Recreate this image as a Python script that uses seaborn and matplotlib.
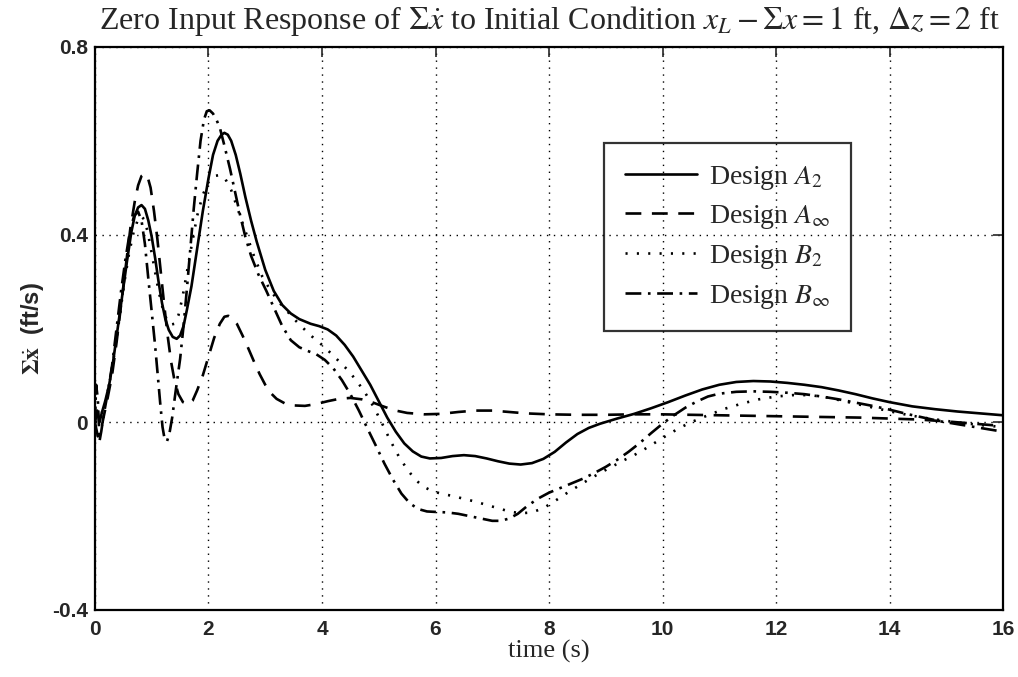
import matplotlib
matplotlib.use("Agg")
import matplotlib.pyplot as plt
import pandas as pd
import seaborn as sns

# Design A2 (solid)
t_a2 = [0.0, 0.04, 0.08, 0.12, 0.18, 0.25, 0.32, 0.4, 0.48, 0.56, 0.64, 0.7, 0.76, 0.82,
        0.88, 0.94, 1.0, 1.06, 1.12, 1.18, 1.24, 1.3, 1.37, 1.44, 1.5, 1.56, 1.62, 1.7,
        1.8, 1.9, 2.0, 2.08, 2.16, 2.23, 2.28, 2.34, 2.4, 2.48, 2.56, 2.65, 2.75, 2.85,
        3.0, 3.15, 3.3, 3.45, 3.6, 3.8, 3.95, 4.1, 4.25, 4.4, 4.55, 4.7, 4.85, 5.0, 5.15,
        5.3, 5.45, 5.6, 5.75, 5.9, 6.1, 6.3, 6.5, 6.7, 6.9, 7.1, 7.3, 7.5, 7.7, 7.9, 8.1,
        8.3, 8.5, 8.7, 8.9, 9.2, 9.5, 9.8, 10.1, 10.4, 10.7, 11.0, 11.3, 11.6, 11.9, 12.2,
        12.5, 12.8, 13.1, 13.4, 13.7, 14.0, 14.4, 14.8, 15.2, 15.6, 16.0]
y_a2 = [0.0, 0.025, 0.0, 0.02, 0.045, 0.08, 0.13, 0.2, 0.27, 0.34, 0.405, 0.44, 0.458,
        0.463, 0.455, 0.43, 0.395, 0.35, 0.3, 0.255, 0.22, 0.197, 0.182, 0.178, 0.185,
        0.205, 0.24, 0.29, 0.37, 0.45, 0.52, 0.57, 0.6, 0.613, 0.617, 0.613, 0.6, 0.57,
        0.53, 0.48, 0.43, 0.385, 0.325, 0.28, 0.25, 0.232, 0.22, 0.21, 0.205, 0.198,
        0.185, 0.165, 0.14, 0.11, 0.08, 0.045, 0.01, -0.02, -0.045, -0.062, -0.073,
        -0.077, -0.076, -0.072, -0.07, -0.072, -0.077, -0.083, -0.088, -0.09, -0.087,
        -0.078, -0.063, -0.043, -0.025, -0.012, -0.003, 0.008, 0.018, 0.03, 0.043, 0.057,
        0.07, 0.08, 0.086, 0.088, 0.087, 0.084, 0.08, 0.075, 0.068, 0.06, 0.051, 0.043,
        0.034, 0.028, 0.023, 0.019, 0.015]

# Design A-infinity (dashed)
t_ainf = [0.0, 0.05, 0.1, 0.15, 0.22, 0.3, 0.38, 0.46, 0.54, 0.62, 0.7, 0.76, 0.82, 0.88,
          0.93, 0.98, 1.04, 1.1, 1.16, 1.22, 1.28, 1.34, 1.4, 1.47, 1.55, 1.64, 1.72, 1.8,
          1.9, 2.0, 2.1, 2.2, 2.28, 2.35, 2.42, 2.5, 2.6, 2.7, 2.8, 2.9, 3.0, 3.1, 3.2,
          3.35, 3.5, 3.7, 3.9, 4.1, 4.3, 4.5, 4.7, 4.9, 5.1, 5.3, 5.5, 5.8, 6.1, 6.4, 6.7,
          7.0, 7.3, 7.6, 8.0, 8.5, 9.0, 9.5, 10.0, 10.5, 11.0, 11.5, 12.0, 12.5, 13.0,
          13.5, 14.0, 14.5, 15.0, 15.5, 16.0]
y_ainf = [0.0, -0.03, -0.02, 0.01, 0.05, 0.1, 0.17, 0.25, 0.33, 0.41, 0.47, 0.505, 0.525,
          0.53, 0.522, 0.5, 0.45, 0.39, 0.32, 0.25, 0.185, 0.13, 0.09, 0.06, 0.043, 0.038,
          0.046, 0.068, 0.1, 0.14, 0.18, 0.21, 0.225, 0.227, 0.222, 0.21, 0.185, 0.158,
          0.13, 0.103, 0.08, 0.062, 0.05, 0.04, 0.036, 0.035, 0.039, 0.045, 0.05, 0.052,
          0.049, 0.042, 0.033, 0.025, 0.02, 0.017, 0.018, 0.022, 0.025, 0.025, 0.022,
          0.019, 0.017, 0.016, 0.016, 0.017, 0.017, 0.016, 0.015, 0.014, 0.013, 0.012,
          0.011, 0.01, 0.008, 0.006, 0.002, -0.003, -0.008]

# Design B2 (dotted)
t_b2 = [0.0, 0.06, 0.12, 0.2, 0.28, 0.36, 0.44, 0.52, 0.6, 0.68, 0.75, 0.81, 0.87, 0.93,
        1.0, 1.06, 1.12, 1.19, 1.26, 1.33, 1.4, 1.47, 1.54, 1.62, 1.7, 1.8, 1.9, 2.0,
        2.1, 2.2, 2.3, 2.4, 2.5, 2.6, 2.7, 2.8, 2.95, 3.1, 3.25, 3.4, 3.55, 3.7, 3.85,
        4.0, 4.15, 4.3, 4.45, 4.6, 4.75, 4.9, 5.05, 5.2, 5.35, 5.5, 5.65, 5.8, 5.95,
        6.1, 6.3, 6.5, 6.7, 6.9, 7.1, 7.3, 7.5, 7.7, 7.9, 8.1, 8.3, 8.5, 8.7, 8.9, 9.1,
        9.3, 9.5, 9.7, 9.9, 10.1, 10.3, 10.5, 10.8, 11.1, 11.4, 11.7, 12.0, 12.3, 12.6,
        12.9, 13.2, 13.5, 13.8, 14.1, 14.4, 14.7, 15.0, 15.4, 15.7, 16.0]
y_b2 = [0.0, 0.01, 0.02, 0.05, 0.1, 0.16, 0.23, 0.3, 0.36, 0.405, 0.43, 0.44, 0.432,
        0.405, 0.36, 0.32, 0.28, 0.245, 0.22, 0.208, 0.21, 0.228, 0.265, 0.32, 0.375,
        0.44, 0.485, 0.512, 0.525, 0.527, 0.518, 0.495, 0.46, 0.425, 0.39, 0.355, 0.31,
        0.28, 0.255, 0.235, 0.215, 0.197, 0.18, 0.165, 0.148, 0.13, 0.112, 0.09, 0.065,
        0.035, 0.0, -0.038, -0.072, -0.1, -0.123, -0.138, -0.147, -0.152, -0.157,
        -0.163, -0.169, -0.176, -0.183, -0.19, -0.194, -0.192, -0.183, -0.168, -0.152,
        -0.137, -0.122, -0.108, -0.095, -0.082, -0.07, -0.056, -0.041, -0.026, -0.012,
        0.0, 0.015, 0.029, 0.04, 0.049, 0.055, 0.058, 0.058, 0.053, 0.045, 0.037, 0.029,
        0.021, 0.014, 0.008, 0.003, -0.003, -0.007, -0.01]

# Design B-infinity (dash-dot)
t_binf = [0.0, 0.02, 0.05, 0.08, 0.11, 0.16, 0.22, 0.3, 0.38, 0.46, 0.54, 0.62, 0.69,
          0.76, 0.82, 0.88, 0.94, 1.0, 1.06, 1.11, 1.15, 1.19, 1.23, 1.27, 1.31, 1.36,
          1.42, 1.5, 1.56, 1.62, 1.68, 1.74, 1.8, 1.86, 1.92, 1.97, 2.02, 2.08, 2.14,
          2.2, 2.28, 2.38, 2.47, 2.56, 2.65, 2.75, 2.88, 3.02, 3.15, 3.3, 3.45, 3.6, 3.75,
          3.9, 4.05, 4.2, 4.35, 4.5, 4.65, 4.8, 4.95, 5.1, 5.25, 5.4, 5.55, 5.7, 5.85,
          6.0, 6.2, 6.4, 6.6, 6.8, 7.0, 7.15, 7.3, 7.45, 7.6, 7.8, 8.0, 8.2, 8.4, 8.6,
          8.8, 9.0, 9.2, 9.4, 9.6, 9.8, 10.0, 10.2, 10.4, 10.6, 10.8, 11.0, 11.3, 11.6,
          11.9, 12.2, 12.5, 12.8, 13.1, 13.4, 13.7, 14.0, 14.3, 14.6, 14.9, 15.2, 15.5,
          15.8, 16.0]
y_binf = [0.0, 0.08, 0.05, -0.04, -0.02, 0.02, 0.06, 0.12, 0.2, 0.28, 0.35, 0.41, 0.44,
          0.449, 0.43, 0.38, 0.306, 0.235, 0.163, 0.095, 0.04, -0.01, -0.038, -0.04,
          -0.025, 0.01, 0.065, 0.135, 0.205, 0.285, 0.37, 0.455, 0.53, 0.6, 0.645, 0.663,
          0.665, 0.658, 0.645, 0.628, 0.59, 0.54, 0.49, 0.44, 0.395, 0.355, 0.315, 0.28,
          0.245, 0.205, 0.175, 0.16, 0.152, 0.145, 0.133, 0.115, 0.09, 0.06, 0.025,
          -0.013, -0.05, -0.088, -0.122, -0.152, -0.173, -0.185, -0.19, -0.191, -0.192,
          -0.195, -0.2, -0.205, -0.21, -0.21, -0.205, -0.195, -0.18, -0.163, -0.15, -0.14,
          -0.13, -0.12, -0.108, -0.095, -0.08, -0.063, -0.044, -0.023, -0.003, 0.015,
          0.031, 0.044, 0.055, 0.061, 0.065, 0.066, 0.065, 0.063, 0.06, 0.055, 0.049,
          0.042, 0.035, 0.027, 0.018, 0.01, 0.002, -0.004, -0.01, -0.016, -0.02]

labels = ["Design $A_2$", "Design $A_\\infty$", "Design $B_2$", "Design $B_\\infty$"]
x_ticks = [0, 2, 4, 6, 8, 10, 12, 14, 16]
y_ticks = [-0.4, 0, 0.4, 0.8]
y_tick_labels = ["-0.4", "0", "0.4", "0.8"]

frames = []
for label, t, y in zip(labels, [t_a2, t_ainf, t_b2, t_binf], [y_a2, y_ainf, y_b2, y_binf]):
    frames.append(pd.DataFrame({"time": t, "value": y, "design": label}))
df = pd.concat(frames, ignore_index=True)

sns.set_style("white")
plt.rcParams["font.family"] = ["Liberation Serif", "DejaVu Serif"]
plt.rcParams["mathtext.fontset"] = "stix"

fig = plt.figure(figsize=(10.18, 6.77), dpi=100)
ax = fig.add_axes([0.0933, 0.099, 0.892, 0.8316])

dash_styles = {
    labels[0]: "",
    labels[1]: (6, 4),
    labels[2]: (0.8, 3.5),
    labels[3]: (6, 2.5, 1, 2.5),
}
sns.lineplot(data=df, x="time", y="value", style="design", style_order=labels,
             dashes=dash_styles, color="black", linewidth=1.9, sort=False,
             estimator=None, ax=ax, legend=True)

ax.set_xlim(0, 16)
ax.set_ylim(-0.4, 0.8)
ax.set_xticks(x_ticks)
ax.set_yticks(y_ticks)
ax.set_yticklabels(y_tick_labels)
ax.grid(True, color="black", linestyle=(0, (1, 4)), linewidth=1.0)
ax.tick_params(direction="in", length=7, width=1.2, top=True, right=True,
               labelsize=15, pad=5)
ax.tick_params(axis="x", pad=7)
for lab in ax.get_xticklabels() + ax.get_yticklabels():
    lab.set_family(["Liberation Sans", "DejaVu Sans"])
    lab.set_fontweight("bold")
for sp in ax.spines.values():
    sp.set_color("black")
    sp.set_linewidth(1.6)

ax.set_xlabel("time (s)", fontsize=19, labelpad=1)
ax.set_ylabel("$\\mathbf{\\Sigma}\\dot{\\mathbf{x}}$  (ft/s)", fontsize=17, labelpad=4,
              family=["Liberation Sans", "DejaVu Sans"], fontweight="bold")
ax.set_title("Zero Input Response of $\\Sigma\\dot{x}$ to Initial Condition "
             "$x_L - \\Sigma x = 1$ ft, $\\Delta z = 2$ ft", fontsize=23, pad=13)

leg = ax.legend(loc="upper left", bbox_to_anchor=(0.561, 0.83), fontsize=20,
                frameon=True, fancybox=False, handlelength=2.6, handletextpad=0.4,
                labelspacing=0.42, borderpad=0.75, borderaxespad=0)
leg.get_frame().set_edgecolor("black")
leg.get_frame().set_linewidth(1.6)
leg.get_frame().set_facecolor("none")
for line in leg.get_lines():
    line.set_linewidth(1.9)

fig.savefig("out.png", dpi=100)
